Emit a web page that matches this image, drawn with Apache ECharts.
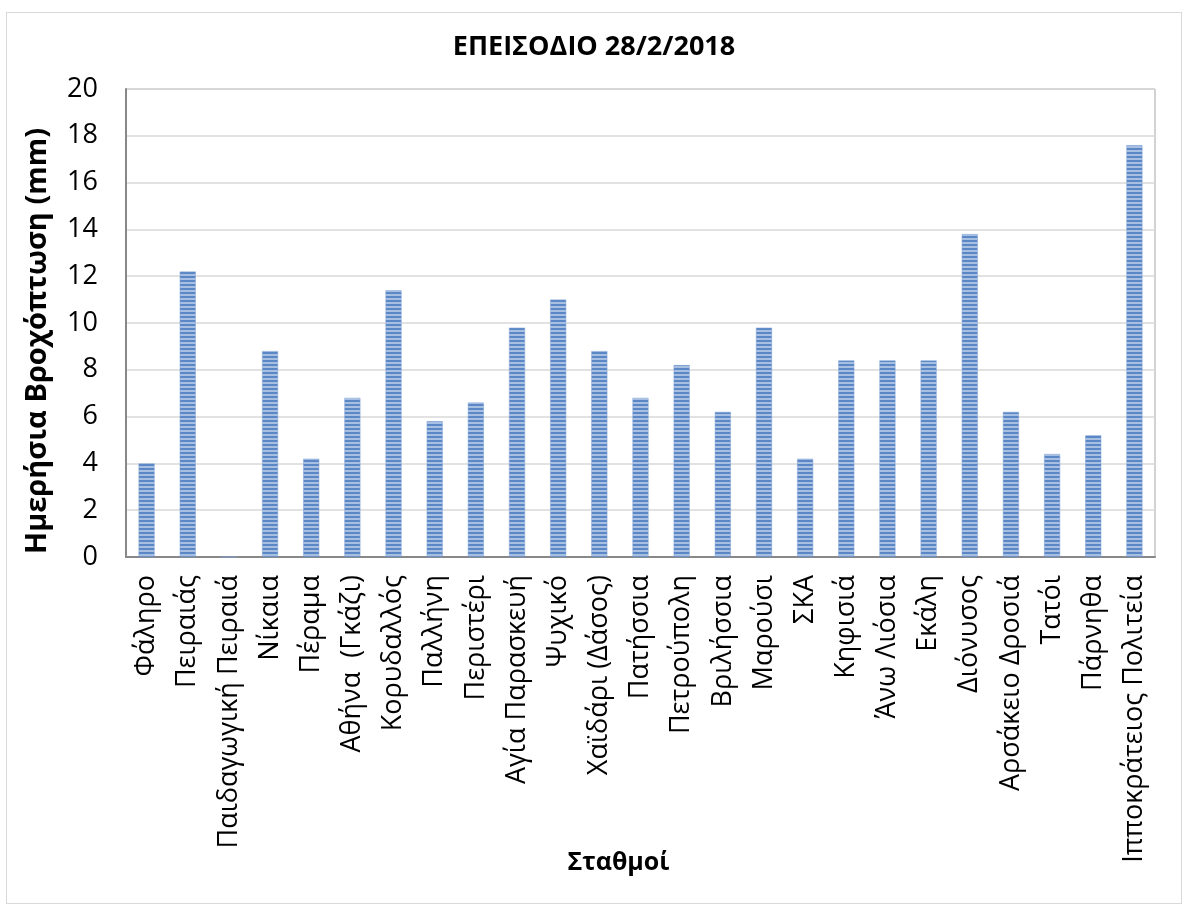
<!DOCTYPE html>
<html><head><meta charset="utf-8">
<script src="https://cdn.jsdelivr.net/npm/echarts@6/dist/echarts.min.js"></script>
<style>html,body{margin:0;padding:0;background:#fff}#outer{position:absolute;left:6px;top:12px;width:1176px;height:892px;border:1px solid #d9d9d9;box-sizing:border-box}#c{width:1188px;height:910px;position:absolute;left:0;top:0}</style>
</head><body><div id="outer"></div><div id="c"></div>
<script>
const categories = ['Φάληρο','Πειραιάς','Παιδαγωγική Πειραιά','Νίκαια','Πέραμα','Αθήνα  (Γκάζι)','Κορυδαλλός','Παλλήνη','Περιστέρι','Αγία Παρασκευή','Ψυχικό','Χαϊδάρι (Δάσος)','Πατήσσια','Πετρούπολη','Βριλήσσια','Μαρούσι','ΣΚΑ','Κηφισιά','Άνω Λιόσια','Εκάλη','Διόνυσος','Αρσάκειο Δροσιά','Τατόι','Πάρνηθα','Ιπποκράτειος Πολιτεία'];
const rainfall = [4.0,12.2,0,8.8,4.2,6.8,11.4,5.8,6.6,9.8,11.0,8.8,6.8,8.2,6.2,9.8,4.2,8.4,8.4,8.4,13.8,6.2,4.4,5.2,17.6];
const yTicks = [0,2,4,6,8,10,12,14,16,18,20];

const FF = "'Open Sans', sans-serif";
const pc = document.createElement('canvas');
pc.width = 4; pc.height = 4;
const g = pc.getContext('2d');
g.fillStyle = '#a7c0e2'; g.fillRect(0,0,4,4);
g.fillStyle = '#5b87c6'; g.fillRect(0,0,4,2);

const chart = echarts.init(document.getElementById('c'));
chart.setOption({
  animation:false,
  title:{text:'ΕΠΕΙΣΟΔΙΟ 28/2/2018',left:'center',top:29,textStyle:{fontFamily:FF,fontSize:27,fontWeight:'bold',color:'#000'}},
  grid:{left:126,right:33,top:89,bottom:353,show:true,borderColor:'#a6a6a6',borderWidth:1},
  xAxis:{type:'category',data:categories,
    axisLine:{lineStyle:{color:'#888',width:2}},axisTick:{show:false},
    axisLabel:{rotate:90,interval:0,fontFamily:FF,fontSize:27,color:'#000',margin:18},
    name:'Σταθμοί',nameLocation:'middle',nameGap:293,nameMoveOverlap:false,
    nameTextStyle:{fontFamily:FF,fontSize:25,fontWeight:'bold',color:'#000',padding:[0,44,0,0]}},
  yAxis:{type:'value',min:yTicks[0],max:yTicks[yTicks.length-1],interval:2,
    axisLine:{show:true,lineStyle:{color:'#888',width:2}},
    splitLine:{lineStyle:{color:'#d9d9d9',width:1.5}},
    axisLabel:{fontFamily:FF,fontSize:27,color:'#000',margin:28},
    name:'Ημερήσια Βροχόπτωση (mm)',nameLocation:'middle',nameGap:74,nameRotate:90,
    nameTextStyle:{fontFamily:FF,fontSize:29,fontWeight:'bold',color:'#000',padding:[0,36,0,0]}},
  series:[{type:'bar',data:rainfall,barWidth:16,
    itemStyle:{color:{image:pc,repeat:'repeat'},borderColor:'#7ea1d4',borderWidth:0.5}}]
});
</script></body></html>
